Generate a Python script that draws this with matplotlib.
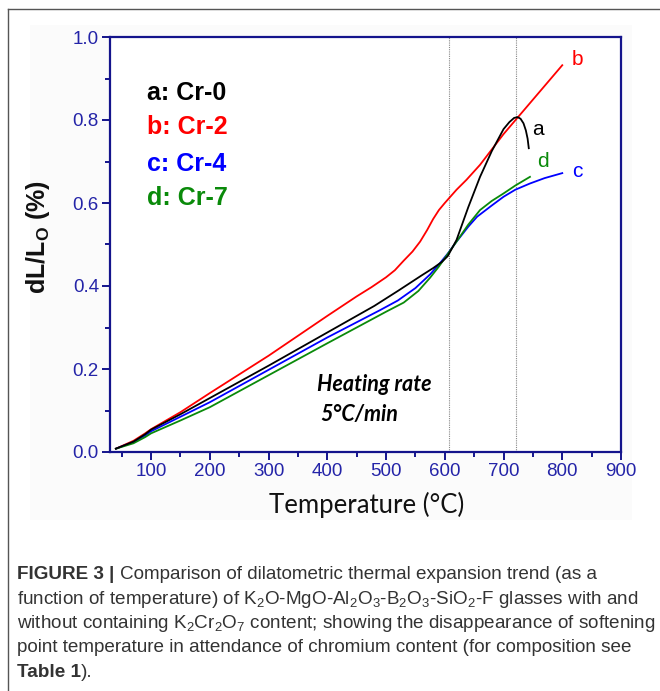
import matplotlib
matplotlib.use('Agg')
import matplotlib.pyplot as plt
from matplotlib.patches import Rectangle
from matplotlib.lines import Line2D
from matplotlib.ticker import MultipleLocator

plt.rcParams['mathtext.fontset'] = 'custom'
plt.rcParams['mathtext.rm'] = 'Liberation Sans'
plt.rcParams['mathtext.it'] = 'Liberation Sans:italic'
plt.rcParams['mathtext.bf'] = 'Liberation Sans:bold'

# ---- data ----
t_a = [40, 70, 90, 100, 150, 200, 300, 400, 480, 520, 560, 580, 595, 605, 612, 620, 640, 660, 680,
       700, 710, 718, 724, 729, 734, 738, 741, 743]
v_a = [0.008, 0.025, 0.043, 0.054, 0.091, 0.13, 0.208, 0.288, 0.352, 0.388, 0.425, 0.443, 0.458,
       0.472, 0.49, 0.511, 0.59, 0.663, 0.725, 0.778, 0.795, 0.805, 0.807, 0.803, 0.792, 0.775,
       0.755, 0.732]

t_b = [40, 70, 90, 100, 150, 200, 300, 400, 450, 475, 500, 515, 530, 545, 558, 570, 580, 590, 600,
       610, 620, 637, 660, 700, 750, 800]
v_b = [0.008, 0.027, 0.045, 0.055, 0.096, 0.142, 0.232, 0.328, 0.375, 0.397, 0.421, 0.438, 0.461,
       0.483, 0.507, 0.535, 0.561, 0.583, 0.600, 0.616, 0.632, 0.656, 0.692, 0.766, 0.849, 0.932]

t_c = [40, 70, 90, 100, 150, 200, 300, 400, 490, 520, 550, 575, 590, 605, 620, 640, 655, 680, 700,
       720, 745, 770, 800]
v_c = [0.008, 0.024, 0.04, 0.05, 0.085, 0.12, 0.198, 0.276, 0.342, 0.365, 0.395, 0.428, 0.452,
       0.478, 0.507, 0.543, 0.567, 0.594, 0.615, 0.632, 0.647, 0.66, 0.672]

t_d = [40, 70, 90, 100, 150, 200, 300, 400, 500, 530, 555, 575, 590, 605, 620, 640, 660, 680, 700,
       720, 745]
v_d = [0.008, 0.021, 0.036, 0.045, 0.076, 0.108, 0.185, 0.262, 0.338, 0.36, 0.388, 0.42, 0.447,
       0.477, 0.507, 0.548, 0.583, 0.605, 0.623, 0.642, 0.663]

series_labels = ['a', 'b', 'c', 'd']
legend_texts = ['a: Cr-0', 'b: Cr-2', 'c: Cr-4', 'd: Cr-7']
softening_lines = [608, 721]
x_ticks = [100, 200, 300, 400, 500, 600, 700, 800, 900]
y_ticks = [0.0, 0.2, 0.4, 0.6, 0.8, 1.0]

colors = {'a': 'black', 'b': '#ff0000', 'c': '#0000ff', 'd': '#0a8a0a'}
axis_col = '#14148c'
tick_col = '#2424a8'

W, H = 660, 691
fig = plt.figure(figsize=(W / 100, H / 100), dpi=100)
fig.patch.set_facecolor('white')

def fx(px):
    return px / W

def fy(py):
    return 1 - py / H

# faint panel background
fig.patches.append(Rectangle((fx(30), fy(520)), (632 - 30) / W, (520 - 25) / H,
                             transform=fig.transFigure, facecolor='#fbfbfb',
                             edgecolor='none', zorder=-10))
# frame lines
fig.add_artist(Line2D([fx(8), fx(8)], [fy(9), 0], transform=fig.transFigure, color='#555555', lw=1.0))
fig.add_artist(Line2D([fx(8), 1], [fy(9), fy(9)], transform=fig.transFigure, color='#555555', lw=1.0))

ax = fig.add_axes([110 / W, 1 - 452 / H, 511 / W, 415 / H])
ax.set_facecolor('white')

for x in softening_lines:
    ax.axvline(x, color='#888888', lw=0.8, ls=(0, (1, 1)), zorder=1)

lw = 1.3
ax.plot(t_b, v_b, color=colors['b'], lw=lw, zorder=3)
ax.plot(t_a, v_a, color=colors['a'], lw=lw, zorder=4)
ax.plot(t_c, v_c, color=colors['c'], lw=lw, zorder=3)
ax.plot(t_d, v_d, color=colors['d'], lw=lw, zorder=3)

ax.set_xlim(30, 900)
ax.set_ylim(0, 1.0)
ax.set_xticks(x_ticks)
ax.set_yticks(y_ticks)
ax.set_yticklabels([f'{v:.1f}' for v in y_ticks])
ax.xaxis.set_minor_locator(MultipleLocator(50))
ax.yaxis.set_minor_locator(MultipleLocator(0.1))
for s in ax.spines.values():
    s.set_color(axis_col)
    s.set_linewidth(1.6)
ax.tick_params(which='major', direction='out', length=6, width=1.4, color=axis_col,
               labelcolor=tick_col, labelsize=13.5, pad=2)
ax.tick_params(which='minor', direction='out', length=3.5, width=1.4, color=axis_col)
for lab in ax.get_xticklabels() + ax.get_yticklabels():
    lab.set_family('Liberation Sans')

ax.set_xlabel('Temperature (°C)', fontsize=18.5, family='Lato', color='#111111', va='center')
ax.xaxis.set_label_coords((367 - 110) / 511, -(505 - 452) / 415)
ax.set_ylabel(r'$\mathbf{dL/L_O\ (\%)}$', fontsize=18, color='#111111', va='center')
ax.yaxis.set_label_coords((38 - 110) / 511, (452 - 237) / 415)

# legend text block
leg_y = [0.864, 0.783, 0.694, 0.612]
for txt, lab, yy in zip(legend_texts, series_labels, leg_y):
    ax.text(93, yy, txt, color=colors[lab], fontsize=18, fontweight='bold',
            family='Liberation Sans', va='center', ha='left')

# curve end labels
end_pos = {'b': (825, 0.945), 'a': (759, 0.776), 'd': (767, 0.699), 'c': (825, 0.675)}
for lab, (xx, yy) in end_pos.items():
    ax.text(xx, yy, lab, color=colors[lab], fontsize=15, family='Liberation Sans',
            va='center', ha='center')

ax.text(0.405, 0.162, 'Heating rate', transform=ax.transAxes, fontsize=15.5,
        fontweight='bold', style='italic', family='Lato', va='center', ha='left')
ax.text(0.412, 0.090, '5°C/min', transform=ax.transAxes, fontsize=15.5,
        fontweight='bold', style='italic', family='Lato', va='center', ha='left')

# caption
cap_col = '#333333'
cap_lines = [
    'Comparison of dilatometric thermal expansion trend (as a',
    r'function of temperature) of K$_2$O-MgO-Al$_2$O$_3$-B$_2$O$_3$-SiO$_2$-F glasses with and',
    r'without containing K$_2$Cr$_2$O$_7$ content; showing the disappearance of softening',
    'point temperature in attendance of chromium content (for composition see',
]
renderer = fig.canvas.get_renderer()
probe = fig.text(0, 0, cap_lines[2], fontsize=13, family='Liberation Sans')
wpx = probe.get_window_extent(renderer).width
probe.remove()
cap_fs = 13 * (652 - 17) / wpx

baselines = [579, 603.5, 628, 652.5, 677]
x0 = fx(17)
t1 = fig.text(x0, fy(baselines[0]), 'FIGURE 3 | ', fontsize=cap_fs, fontweight='bold',
              family='Liberation Sans', color=cap_col, va='baseline')
w1 = t1.get_window_extent(renderer).width / W
fig.text(x0 + w1, fy(baselines[0]), cap_lines[0], fontsize=cap_fs, family='Liberation Sans',
         color=cap_col, va='baseline')
for i in (1, 2, 3):
    fig.text(x0, fy(baselines[i]), cap_lines[i], fontsize=cap_fs, family='Liberation Sans',
             color=cap_col, va='baseline')
t5 = fig.text(x0, fy(baselines[4]), 'Table 1', fontsize=cap_fs, fontweight='bold',
              family='Liberation Sans', color=cap_col, va='baseline')
w5 = t5.get_window_extent(renderer).width / W
fig.text(x0 + w5, fy(baselines[4]), ').', fontsize=cap_fs, family='Liberation Sans',
         color=cap_col, va='baseline')

fig.savefig('out.png', dpi=100)
